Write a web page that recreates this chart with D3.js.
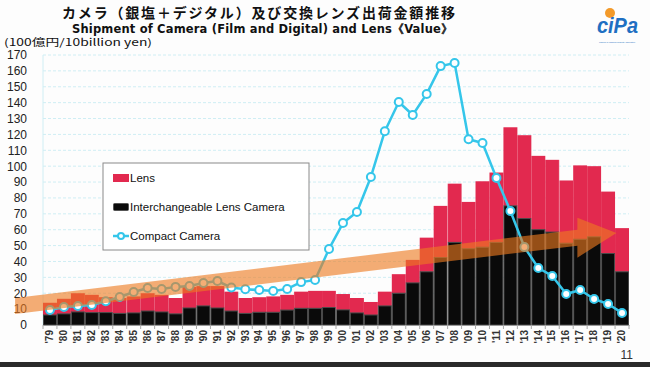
<!DOCTYPE html>
<html>
<head>
<meta charset="utf-8">
<script src="https://cdn.jsdelivr.net/npm/d3@7"></script>
<style>
  body { margin: 0; background: #fdfdfd; }
  svg { display: block; font-family: "Liberation Sans", Arial, sans-serif; }
</style>
</head>
<body>
<div id="chart-wrapper"></div>
<script>
//////////////////// Data ////////////////////
const years = ["'79","'80","'81","'82","'83","'84","'85","'86","'87","'88","'89","'90","'91","'92",
  "'93","'94","'95","'96","'97","'98","'99","'00","'01","'02","'03","'04","'05","'06","'07","'08",
  "'09","'10","'11","'12","'13","'14","'15","'16","'17","'18","'19","'20"]
// 100 oku yen
const ilcValues = [6.3,7,8.2,7.8,7.8,7.3,7.6,8.8,8.2,7,10.7,12,10.7,8.8,
  7.3,8,8,9.4,10.5,10.5,11,9.5,7.6,6.3,12,20,26.5,33.5,42.5,52,
  48,49,52,75,67,60,58.5,51.5,54,55.5,45,33.5]
const lensValues = [7.7,9.5,11.8,11.2,9.7,9.7,10.4,11.2,10.8,10,13.3,12.5,13.8,12.2,
  9.7,9.5,10,9.6,10.5,11,10.5,10,9.4,8.2,9,12,14.5,21.5,32.5,37,
  29.5,41.5,44,49.5,52.5,46.5,45.5,39.5,46.5,44.5,39,27.5]
const compactValues = [9.4,11.3,12,12.6,15,17.6,20.8,23.3,22.7,24,24.6,26.4,27.7,23.6,
  22.5,22,21.4,22.7,27,28.3,47.9,64.2,71.2,93.2,122,140.4,132.2,145.5,163,165,
  117,114.6,92.6,71.8,49.1,35.9,30.9,19.5,22,16.4,13.2,7.6]
const yTicks = d3.range(0, 171, 10)
const legendItems = ["Lens", "Interchangeable Lens Camera", "Compact Camera"]

//////////////////// Constants ////////////////////
const width = 650
const height = 367
const margin = {top: 55, right: 21, bottom: 42, left: 43}
const red = "#e2294f"
const cyan = "#35c6ea"
const orange = "#ee7a20"

const svg = d3.select("#chart-wrapper").append("svg")
  .attr("width", width)
  .attr("height", height)

svg.append("rect").attr("width", width).attr("height", height).attr("fill", "#fdfdfd")
svg.append("rect").attr("y", 362).attr("width", width).attr("height", 5).attr("fill", "#2a2a2a")

const data = years.map((y, i) => ({year: y, ilc: ilcValues[i], lens: lensValues[i], compact: compactValues[i]}))

/// scales ///
const xScale = d3.scaleBand()
  .domain(years)
  .range([margin.left, width - margin.right])
  .padding(0)
const yScale = d3.scaleLinear()
  .domain([0, 170])
  .range([height - margin.bottom, margin.top])
const step = xScale.step()
const xCenter = i => xScale(years[0]) + step / 2 + i * step   // i = index from '79, may be fractional

/// gridlines ///
svg.append("g")
  .selectAll("line")
  .data(yTicks.filter(d => d > 0))
  .join("line")
    .attr("x1", margin.left)
    .attr("x2", width - margin.right)
    .attr("y1", d => yScale(d))
    .attr("y2", d => yScale(d))
    .attr("stroke", "#cfeef4")
    .attr("stroke-dasharray", "3,2")
svg.append("line")
  .attr("x1", margin.left).attr("x2", margin.left)
  .attr("y1", yScale(170)).attr("y2", yScale(0))
  .attr("stroke", "#cfeef4")

/// stacked bars ///
svg.append("g")
  .selectAll("rect")
  .data(data)
  .join("rect")
    .attr("x", d => xScale(d.year))
    .attr("width", xScale.bandwidth())
    .attr("y", d => yScale(d.ilc + d.lens))
    .attr("height", d => yScale(d.ilc) - yScale(d.ilc + d.lens))
    .attr("fill", red)
svg.append("g")
  .selectAll("rect")
  .data(data)
  .join("rect")
    .attr("x", d => xScale(d.year) + 0.5)
    .attr("width", xScale.bandwidth() - 1)
    .attr("y", d => yScale(d.ilc))
    .attr("height", d => yScale(0) - yScale(d.ilc))
    .attr("fill", "#0a0a0a")
    .attr("stroke", "#474747")
    .attr("stroke-width", 1)

// faint slide separators
svg.append("g")
  .selectAll("line")
  .data(["'85", "'93", "'00", "'08", "'16"])
  .join("line")
    .attr("x1", d => xScale(d)).attr("x2", d => xScale(d))
    .attr("y1", yScale(170)).attr("y2", yScale(0))
    .attr("stroke", "#ffffff").attr("stroke-opacity", 0.3)

/// axes ///
const xAxis = g => g
  .attr("transform", `translate(0, ${yScale(0)})`)
  .call(d3.axisBottom(xScale).tickSize(0).tickPadding(4))
  .call(g => g.select(".domain").attr("stroke", "#999"))
  .call(g => g.selectAll(".tick text")
    .attr("transform", "rotate(-90)")
    .attr("text-anchor", "end")
    .attr("dx", "-0.5em")
    .attr("dy", "0.32em")
    .attr("x", 0).attr("y", 0)
    .attr("font-size", 10)
    .attr("font-weight", "bold")
    .attr("fill", "#333"))
svg.append("g").call(xAxis)
// small ticks at band boundaries
svg.append("g")
  .selectAll("line")
  .data(years.concat(["end"]))
  .join("line")
    .attr("x1", (d, i) => margin.left + i * step).attr("x2", (d, i) => margin.left + i * step)
    .attr("y1", yScale(0)).attr("y2", yScale(0) + 4)
    .attr("stroke", "#aaa")

const yAxis = g => g
  .attr("transform", `translate(${margin.left - 13}, 0)`)
  .call(d3.axisLeft(yScale).tickValues(yTicks).tickSize(0))
  .call(g => g.select(".domain").remove())
  .call(g => g.selectAll(".tick text")
    .attr("font-size", 12)
    .attr("fill", "#222"))
svg.append("g").call(yAxis)

/// compact camera line ///
const line = d3.line()
  .x(d => xScale(d.year) + xScale.bandwidth() / 2)
  .y(d => yScale(d.compact))
svg.append("path")
  .datum(data)
  .attr("fill", "none")
  .attr("stroke", cyan)
  .attr("stroke-width", 2.5)
  .attr("stroke-linejoin", "round")
  .attr("d", line)
svg.append("g")
  .selectAll("circle")
  .data(data)
  .join("circle")
    .attr("cx", d => xScale(d.year) + xScale.bandwidth() / 2)
    .attr("cy", d => yScale(d.compact))
    .attr("r", 4)
    .attr("fill", "#fff")
    .attr("stroke", cyan)
    .attr("stroke-width", 2)

/// trend arrow (annotation) ///
const tail = {i: -2.5, v: 12}, head = {i: 37.8, v: 55}, tip = {i: 40.6, v: 58}
const half = 8, headHalf = 20
const arrowPts = [
  [xCenter(tail.i), yScale(tail.v) - half],
  [xCenter(head.i), yScale(head.v) - half],
  [xCenter(head.i), yScale(head.v) - headHalf],
  [xCenter(tip.i), yScale(tip.v)],
  [xCenter(head.i), yScale(head.v) + headHalf],
  [xCenter(head.i), yScale(head.v) + half],
  [xCenter(tail.i), yScale(tail.v) + half]
]
svg.append("path")
  .attr("d", d3.line()(arrowPts) + "Z")
  .attr("fill", orange)
  .attr("fill-opacity", 0.62)

/// legend ///
const legend = svg.append("g").attr("transform", "translate(103, 163)")
legend.append("rect")
  .attr("width", 206).attr("height", 87)
  .attr("fill", "#fff").attr("stroke", "#8a8a8a")
const legendG = legend.selectAll(".legend-item")
  .data(legendItems)
  .join("g")
    .attr("class", "legend-item")
    .attr("transform", (d, i) => `translate(10, ${15 + i * 29})`)
legendG.append("text")
  .attr("x", 17)
  .attr("dy", "0.35em")
  .attr("font-size", 11.5)
  .attr("fill", "#111")
  .text(d => d)
legendG.filter((d, i) => i === 0).append("rect")
  .attr("x", 0).attr("y", -4).attr("width", 16).attr("height", 8).attr("fill", red)
legendG.filter((d, i) => i === 1).append("rect")
  .attr("x", 0.5).attr("y", -3.5).attr("width", 15).attr("height", 7)
  .attr("fill", "#0a0a0a").attr("stroke", "#555").attr("rx", 1)
legendG.filter((d, i) => i === 2).append("line")
  .attr("x1", 0).attr("x2", 16).attr("stroke", cyan).attr("stroke-width", 2.5)
legendG.filter((d, i) => i === 2).append("circle")
  .attr("cx", 8).attr("r", 3).attr("fill", "#fff").attr("stroke", cyan).attr("stroke-width", 2)

/// titles ///
svg.append("text")
  .attr("x", 62).attr("y", 18)
  .attr("font-family", "'Noto Sans CJK JP', sans-serif")
  .attr("font-weight", "bold")
  .attr("font-size", 14)
  .attr("fill", "#111")
  .attr("textLength", 393).attr("lengthAdjust", "spacing")
  .text("カメラ（銀塩＋デジタル）及び交換レンズ出荷金額推移")
svg.append("text")
  .attr("x", 72).attr("y", 33)
  .attr("font-family", "'DejaVu Sans', sans-serif")
  .attr("font-weight", "bold")
  .attr("font-size", 11.5)
  .attr("fill", "#111")
  .attr("textLength", 381).attr("lengthAdjust", "spacing")
  .text("Shipment of Camera (Film and Digital) and Lens《Value》")
svg.append("text")
  .attr("x", 4).attr("y", 46)
  .attr("font-family", "'Noto Sans CJK JP', sans-serif")
  .attr("font-size", 10)
  .attr("fill", "#111")
  .attr("textLength", 148).attr("lengthAdjust", "spacingAndGlyphs")
  .text("(100億円/10billion yen)")

/// logo + page number ///
const logo = svg.append("g").attr("transform", "translate(597, 8)")
logo.append("circle").attr("cx", 13).attr("cy", 5).attr("r", 5).attr("fill", "#f39a2a")
logo.append("text")
  .attr("x", 0).attr("y", 25)
  .attr("font-size", 22).attr("font-weight", "bold").attr("font-style", "italic")
  .attr("fill", "#1f6fc2")
  .attr("textLength", 41).attr("lengthAdjust", "spacingAndGlyphs")
  .text("ciPa")
logo.append("text")
  .attr("x", 2).attr("y", 35)
  .attr("font-size", 2).attr("fill", "#1f6fc2")
  .attr("textLength", 36).attr("lengthAdjust", "spacingAndGlyphs")
  .text("Camera & Imaging Products Association")
svg.append("text")
  .attr("x", 633).attr("y", 359)
  .attr("text-anchor", "end")
  .attr("font-size", 12)
  .attr("fill", "#333")
  .text("11")
</script>
</body>
</html>
